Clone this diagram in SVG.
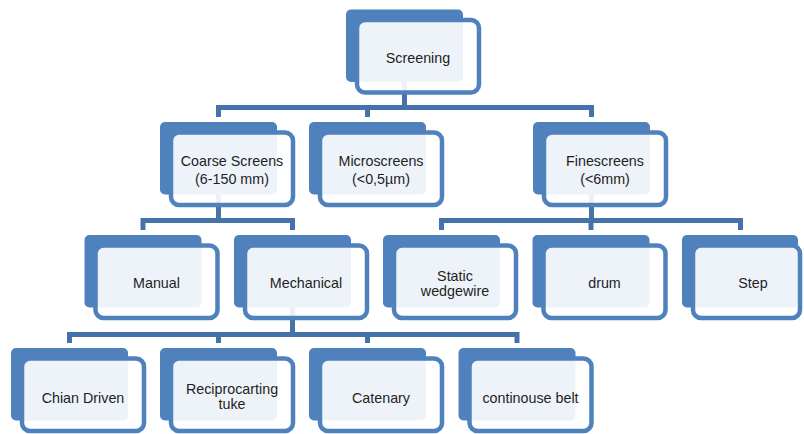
<svg xmlns="http://www.w3.org/2000/svg" width="804" height="434" viewBox="0 0 804 434">
<style>
.back{fill:#4F81BD}
.front{fill:#FFFFFF;fill-opacity:0.9;stroke:#4F81BD;stroke-width:4.5}
.lbl{font-family:"Liberation Sans",Arial,sans-serif;font-size:14.3px;fill:#1E1E1E;text-anchor:middle}
.conn{fill:none;stroke:#4672AA;stroke-width:5}
</style>
<rect width="804" height="434" fill="#FFFFFF"/>
<g id="connectors">
<path class="conn" d="M404.5,72 V107.5 M218.5,117 V107.5 H591.5 V117 M367.5,107.5 V117"/>
<path class="conn" d="M218.5,185 V220.5 M143,230 V220.5 H292.5 V230"/>
<path class="conn" d="M591.5,185 V220.5 M441.5,230 V220.5 H740.5 V230 M591,220.5 V230"/>
<path class="conn" d="M292.5,298 V334.5 M69.5,343 V334.5 H517 V343 M218.5,334.5 V343 M367.5,334.5 V343"/>
</g>
<g id="n-screening">
<rect class="back" x="346" y="9.5" width="117" height="72.5" rx="5"/>
<rect class="front" x="357" y="20" width="122" height="72.5" rx="8"/>
<text class="lbl" x="418" y="62.5">Screening</text>
</g>
<g id="n-coarse">
<rect class="back" x="160" y="122" width="117" height="72.5" rx="5"/>
<rect class="front" x="171" y="132.5" width="122" height="72.5" rx="8"/>
<text class="lbl" x="232" y="166">Coarse Screens</text>
<text class="lbl" x="232" y="184">(6-150 mm)</text>
</g>
<g id="n-micro">
<rect class="back" x="309" y="122" width="117" height="72.5" rx="5"/>
<rect class="front" x="320" y="132.5" width="122" height="72.5" rx="8"/>
<text class="lbl" x="381" y="166">Microscreens</text>
<text class="lbl" x="381" y="184">(&lt;0,5µm)</text>
</g>
<g id="n-fine">
<rect class="back" x="533" y="122" width="117" height="72.5" rx="5"/>
<rect class="front" x="544" y="132.5" width="122" height="72.5" rx="8"/>
<text class="lbl" x="605" y="166">Finescreens</text>
<text class="lbl" x="605" y="184">(&lt;6mm)</text>
</g>
<g id="n-manual">
<rect class="back" x="84.5" y="235" width="117" height="72.5" rx="5"/>
<rect class="front" x="95.5" y="245.5" width="122" height="72.5" rx="8"/>
<text class="lbl" x="156.5" y="288.3">Manual</text>
</g>
<g id="n-mechanical">
<rect class="back" x="234" y="235" width="117" height="72.5" rx="5"/>
<rect class="front" x="245" y="245.5" width="122" height="72.5" rx="8"/>
<text class="lbl" x="306" y="288.3">Mechanical</text>
</g>
<g id="n-static">
<rect class="back" x="383" y="235" width="117" height="72.5" rx="5"/>
<rect class="front" x="394" y="245.5" width="122" height="72.5" rx="8"/>
<text class="lbl" x="455" y="281">Static</text>
<text class="lbl" x="455" y="296">wedgewire</text>
</g>
<g id="n-drum">
<rect class="back" x="532.5" y="235" width="117" height="72.5" rx="5"/>
<rect class="front" x="543.5" y="245.5" width="122" height="72.5" rx="8"/>
<text class="lbl" x="604.5" y="288.3">drum</text>
</g>
<g id="n-step">
<rect class="back" x="682" y="235" width="116" height="72.5" rx="5"/>
<rect class="front" x="693" y="245.5" width="107" height="72.5" rx="8"/>
<text class="lbl" x="753" y="288.3">Step</text>
</g>
<g id="n-chian">
<rect class="back" x="11" y="348" width="117" height="72.5" rx="5"/>
<rect class="front" x="22" y="358.5" width="122" height="72.5" rx="8"/>
<text class="lbl" x="83" y="403">Chian Driven</text>
</g>
<g id="n-recip">
<rect class="back" x="160" y="348" width="117" height="72.5" rx="5"/>
<rect class="front" x="171" y="358.5" width="122" height="72.5" rx="8"/>
<text class="lbl" x="232" y="394">Reciprocarting</text>
<text class="lbl" x="232" y="409.3">tuke</text>
</g>
<g id="n-catenary">
<rect class="back" x="309" y="348" width="117" height="72.5" rx="5"/>
<rect class="front" x="320" y="358.5" width="122" height="72.5" rx="8"/>
<text class="lbl" x="381" y="403">Catenary</text>
</g>
<g id="n-belt">
<rect class="back" x="458.5" y="348" width="117" height="72.5" rx="5"/>
<rect class="front" x="469.5" y="358.5" width="122" height="72.5" rx="8"/>
<text class="lbl" x="530.5" y="403">continouse belt</text>
</g>
</svg>
